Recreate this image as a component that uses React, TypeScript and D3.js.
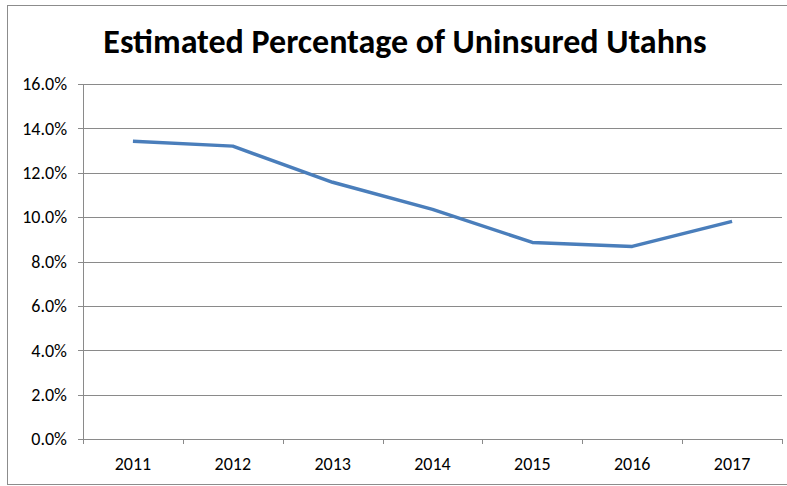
import { useEffect, useRef } from 'react';
import * as d3 from 'd3';

const years = ['2011', '2012', '2013', '2014', '2015', '2016', '2017'];
const uninsured = [13.42, 13.2, 11.57, 10.35, 8.86, 8.68, 9.81];
const yTicks = [0, 2, 4, 6, 8, 10, 12, 14, 16];

const W = 787;
const H = 486;

export default function App() {
  const svgRef = useRef<SVGSVGElement>(null);

  useEffect(() => {
    if (!svgRef.current) return;
    const svg = d3.select(svgRef.current);
    svg.selectAll('*').remove();

    const margin = { top: 84, right: 5, bottom: 47, left: 83 };
    const innerWidth = W - margin.left - margin.right;
    const innerHeight = H - margin.top - margin.bottom;
    const font = "Carlito, 'Open Sans', 'Noto Sans', sans-serif";

    // chart frame (right edge runs off the picture)
    svg.append('rect')
      .attr('x', 7.5).attr('y', 5.5)
      .attr('width', W + 10).attr('height', H - 7)
      .attr('fill', 'white')
      .attr('stroke', '#8c8c8c');

    svg.append('text')
      .attr('x', 405).attr('y', 53)
      .attr('text-anchor', 'middle')
      .attr('font-family', font)
      .attr('font-weight', 'bold')
      .attr('font-size', 34)
      .attr('fill', '#000')
      .text('Estimated Percentage of Uninsured Utahns');

    const g = svg.append('g')
      .attr('transform', `translate(${margin.left}, ${margin.top})`);

    const x = d3.scaleBand().domain(years).range([0, innerWidth]);
    const y = d3.scaleLinear().domain([0, 16]).range([innerHeight, 0]);

    // gridlines
    g.selectAll('line.grid')
      .data(yTicks)
      .enter()
      .append('line')
      .attr('x1', -5)
      .attr('x2', innerWidth)
      .attr('y1', d => Math.round(y(d)) + 0.5)
      .attr('y2', d => Math.round(y(d)) + 0.5)
      .attr('stroke', '#8a8a8a')
      .attr('stroke-width', 1);

    // y axis line
    g.append('line')
      .attr('x1', 0.5).attr('x2', 0.5)
      .attr('y1', 0).attr('y2', innerHeight)
      .attr('stroke', '#8a8a8a');

    // x ticks
    const xEdges = years.map(d => x(d) || 0).concat([innerWidth]);
    g.selectAll('line.xtick')
      .data(xEdges)
      .enter()
      .append('line')
      .attr('x1', d => Math.round(d) + 0.5)
      .attr('x2', d => Math.round(d) + 0.5)
      .attr('y1', innerHeight)
      .attr('y2', innerHeight + 5)
      .attr('stroke', '#8a8a8a');

    g.selectAll('text.ylab')
      .data(yTicks)
      .enter()
      .append('text')
      .attr('x', -16)
      .attr('y', d => y(d))
      .attr('dy', '0.35em')
      .attr('text-anchor', 'end')
      .attr('font-family', font)
      .attr('font-size', 18)
      .attr('fill', '#000')
      .text(d => `${d.toFixed(1)}%`);

    g.selectAll('text.xlab')
      .data(years)
      .enter()
      .append('text')
      .attr('x', d => (x(d) || 0) + x.bandwidth() / 2)
      .attr('y', innerHeight + 31)
      .attr('text-anchor', 'middle')
      .attr('font-family', font)
      .attr('font-size', 18)
      .attr('fill', '#000')
      .text(d => d);

    const line = d3.line<number>()
      .x((_, i) => (x(years[i]) || 0) + x.bandwidth() / 2)
      .y(d => y(d));

    g.append('path')
      .datum(uninsured)
      .attr('d', line)
      .attr('fill', 'none')
      .attr('stroke', '#4a7ebb')
      .attr('stroke-width', 3.5)
      .attr('stroke-linejoin', 'round');
  }, []);

  return (
    <div style={{ position: 'absolute', left: 0, top: 0 }}>
      <svg ref={svgRef} width={W} height={H} style={{ display: 'block' }}></svg>
    </div>
  );
}
